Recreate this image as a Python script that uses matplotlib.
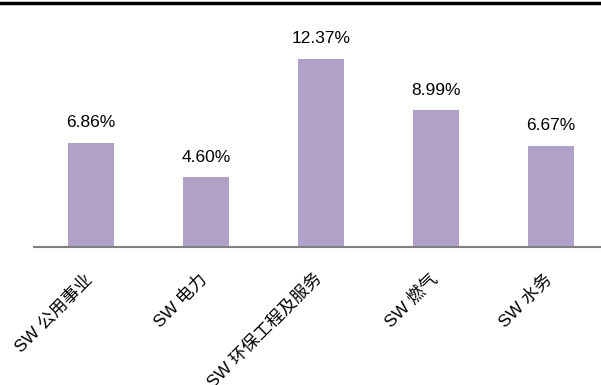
import matplotlib
matplotlib.use("Agg")
import matplotlib.pyplot as plt
from matplotlib.lines import Line2D
from matplotlib.transforms import ScaledTranslation

categories = ["SW 公用事业", "SW 电力", "SW 环保工程及服务", "SW 燃气", "SW 水务"]
values = [6.86, 4.60, 12.37, 8.99, 6.67]
labels = ["6.86%", "4.60%", "12.37%", "8.99%", "6.67%"]

plt.rcParams['font.family'] = ['Liberation Sans', 'Noto Sans CJK SC', 'DejaVu Sans']

W, H = 601, 385
fig = plt.figure(figsize=(W/100, H/100), dpi=100)
left = 33.5 / W
right = 608.5 / W
bottom = 1 - 247 / H
top = 1 - 5 / H
ax = fig.add_axes([left, bottom, right - left, top - bottom])

x = range(len(categories))
ax.bar(x, values, width=0.4, color="#B1A1C8")
ax.set_xlim(-0.5, 4.5)
ax.set_ylim(0, 242 / 15.2)

for xi, v, lab in zip(x, values, labels):
    ax.annotate(lab, (xi, v), xytext=(0, 9), textcoords="offset points",
                ha="center", va="bottom", fontsize=12.5, color="black")

for s in ["top", "right", "left"]:
    ax.spines[s].set_visible(False)
ax.spines["bottom"].set_color("#808080")
ax.spines["bottom"].set_linewidth(1.5)
ax.set_yticks([])
ax.set_xticks(list(x))
ax.set_xticklabels(categories, rotation=45, ha="right", rotation_mode="anchor",
                   fontsize=12.5)
ax.tick_params(axis="x", length=0, pad=14)
off = ScaledTranslation(-5 / 72, -3 / 72, fig.dpi_scale_trans)
for t in ax.get_xticklabels():
    t.set_transform(t.get_transform() + off)

fig.add_artist(Line2D([0, 1], [1 - 2.5 / H, 1 - 2.5 / H], color="black", lw=2.5,
                      transform=fig.transFigure))

fig.savefig("out.png", dpi=100)
